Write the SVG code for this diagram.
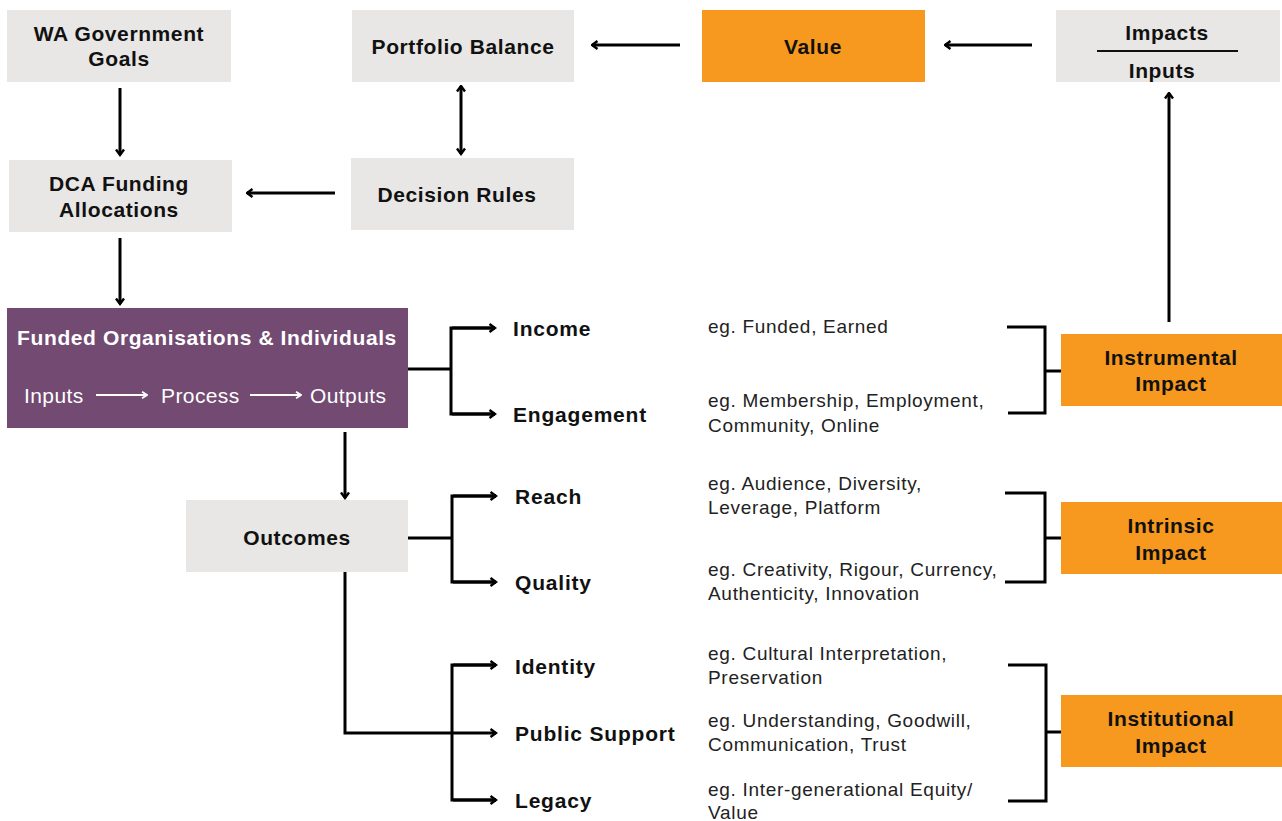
<svg xmlns="http://www.w3.org/2000/svg" width="1282" height="821" viewBox="0 0 1282 821">
<style>
.grey{fill:#e8e7e5}
.orange{fill:#f7991e}
.purple{fill:#724a72}
.b{font-family:"Liberation Sans",Arial,sans-serif;font-weight:bold;font-size:21px;letter-spacing:0.6px;fill:#111;text-anchor:middle;dominant-baseline:central}
.lbl{font-family:"Liberation Sans",Arial,sans-serif;font-weight:bold;font-size:21px;letter-spacing:0.8px;fill:#111;dominant-baseline:central}
.d{font-family:"Liberation Sans",Arial,sans-serif;font-size:19px;letter-spacing:0.7px;fill:#222;dominant-baseline:central}
.w{font-family:"Liberation Sans",Arial,sans-serif;font-size:21px;letter-spacing:0.4px;fill:#fff;dominant-baseline:central}
.c{fill:none;stroke:#000;stroke-width:3}
</style>
<defs>
<marker id="ah" viewBox="0 0 10 10" refX="8.5" refY="5" markerWidth="10" markerHeight="10" markerUnits="userSpaceOnUse" orient="auto-start-reverse">
<path d="M3,1 L8.5,5 L3,9" fill="none" stroke="#000" stroke-width="2.4"/>
</marker>
<marker id="wh" viewBox="0 0 10 10" refX="8.5" refY="5" markerWidth="9" markerHeight="9" markerUnits="userSpaceOnUse" orient="auto">
<path d="M3,1.5 L8.5,5 L3,8.5" fill="none" stroke="#fff" stroke-width="2"/>
</marker>
</defs>
<g id="wa-goals"><rect class="grey" x="7" y="10" width="224" height="72"/><text class="b" x="119" y="33">WA Government</text><text class="b" x="119" y="58">Goals</text></g>
<g id="portfolio"><rect class="grey" x="352" y="10" width="222" height="72"/><text class="b" x="463" y="46">Portfolio Balance</text></g>
<g id="value"><rect class="orange" x="702" y="10" width="223" height="72"/><text class="b" x="813" y="46">Value</text></g>
<g id="ratio"><rect class="grey" x="1056" y="10" width="224" height="72"/><text class="b" x="1167" y="32">Impacts</text><line x1="1097" y1="51" x2="1238" y2="51" stroke="#111" stroke-width="2"/><text class="b" x="1162" y="70">Inputs</text></g>
<g id="dca"><rect class="grey" x="9" y="160" width="223" height="72"/><text class="b" x="119" y="183">DCA Funding</text><text class="b" x="119" y="209">Allocations</text></g>
<g id="rules"><rect class="grey" x="351" y="158" width="223" height="72"/><text class="b" x="457" y="194">Decision Rules</text></g>
<g id="funded"><rect class="purple" x="7" y="308" width="401" height="120"/><text class="b" x="207" y="337" style="fill:#fff">Funded Organisations &amp; Individuals</text><text class="w" x="24" y="395">Inputs</text><line x1="96" y1="395" x2="147" y2="395" stroke="#fff" stroke-width="2" marker-end="url(#wh)"/><text class="w" x="161" y="395">Process</text><line x1="250" y1="395" x2="301" y2="395" stroke="#fff" stroke-width="2" marker-end="url(#wh)"/><text class="w" x="310" y="395">Outputs</text></g>
<g id="outcomes"><rect class="grey" x="186" y="500" width="222" height="72"/><text class="b" x="297" y="537">Outcomes</text></g>
<g id="instrumental"><rect class="orange" x="1061" y="334" width="221" height="72"/><text class="b" x="1171" y="357">Instrumental</text><text class="b" x="1171" y="383">Impact</text></g>
<g id="intrinsic"><rect class="orange" x="1061" y="502" width="221" height="72"/><text class="b" x="1171" y="525">Intrinsic</text><text class="b" x="1171" y="552">Impact</text></g>
<g id="institutional"><rect class="orange" x="1061" y="695" width="221" height="72"/><text class="b" x="1171" y="718">Institutional</text><text class="b" x="1171" y="745">Impact</text></g>
<g id="labels">
<text class="lbl" x="513" y="328">Income</text>
<text class="lbl" x="513" y="414">Engagement</text>
<text class="lbl" x="515" y="496">Reach</text>
<text class="lbl" x="515" y="582">Quality</text>
<text class="lbl" x="515" y="666">Identity</text>
<text class="lbl" x="515" y="733">Public Support</text>
<text class="lbl" x="515" y="800">Legacy</text>
</g>
<g id="descriptions">
<text class="d" x="708" y="326">eg. Funded, Earned</text>
<text class="d" x="708" y="400">eg. Membership, Employment,</text>
<text class="d" x="708" y="425">Community, Online</text>
<text class="d" x="708" y="483">eg. Audience, Diversity,</text>
<text class="d" x="708" y="507">Leverage, Platform</text>
<text class="d" x="708" y="569">eg. Creativity, Rigour, Currency,</text>
<text class="d" x="708" y="593">Authenticity, Innovation</text>
<text class="d" x="708" y="653">eg. Cultural Interpretation,</text>
<text class="d" x="708" y="677">Preservation</text>
<text class="d" x="708" y="720">eg. Understanding, Goodwill,</text>
<text class="d" x="708" y="744">Communication, Trust</text>
<text class="d" x="708" y="789">eg. Inter-generational Equity/</text>
<text class="d" x="708" y="812">Value</text>
</g>
<g id="connectors">
<line class="c" x1="120" y1="88" x2="120" y2="155" marker-end="url(#ah)"/>
<line class="c" x1="120" y1="238" x2="120" y2="304" marker-end="url(#ah)"/>
<line class="c" x1="335" y1="193" x2="247" y2="193" marker-end="url(#ah)"/>
<line class="c" x1="461" y1="86" x2="461" y2="154" marker-start="url(#ah)" marker-end="url(#ah)"/>
<line class="c" x1="680" y1="45" x2="592" y2="45" marker-end="url(#ah)"/>
<line class="c" x1="1032" y1="45" x2="945" y2="45" marker-end="url(#ah)"/>
<line class="c" x1="1169" y1="322" x2="1169" y2="93" marker-end="url(#ah)"/>
<line class="c" x1="345" y1="432" x2="345" y2="498" marker-end="url(#ah)"/>
<line class="c" x1="408" y1="369" x2="451" y2="369"/>
<path class="c" d="M495,328 H451 V414 H495" />
<line class="c" x1="452" y1="328" x2="495" y2="328" marker-end="url(#ah)"/>
<line class="c" x1="452" y1="414" x2="495" y2="414" marker-end="url(#ah)"/>
<line class="c" x1="408" y1="538" x2="452" y2="538"/>
<path class="c" d="M496,496 H452 V582 H496"/>
<line class="c" x1="453" y1="496" x2="496" y2="496" marker-end="url(#ah)"/>
<line class="c" x1="453" y1="582" x2="496" y2="582" marker-end="url(#ah)"/>
<path class="c" d="M345,572 V733 H496" marker-end="url(#ah)"/>
<path class="c" d="M496,665 H452 V800 H496"/>
<line class="c" x1="453" y1="665" x2="496" y2="665" marker-end="url(#ah)"/>
<line class="c" x1="453" y1="800" x2="496" y2="800" marker-end="url(#ah)"/>
<path class="c" d="M1007,327 H1045 V413 H1008"/>
<line class="c" x1="1045" y1="371" x2="1061" y2="371"/>
<path class="c" d="M1005,493 H1045 V582 H1005"/>
<line class="c" x1="1045" y1="538" x2="1061" y2="538"/>
<path class="c" d="M1008,665 H1046 V801 H1008"/>
<line class="c" x1="1046" y1="732" x2="1061" y2="732"/>
</g>
</svg>
